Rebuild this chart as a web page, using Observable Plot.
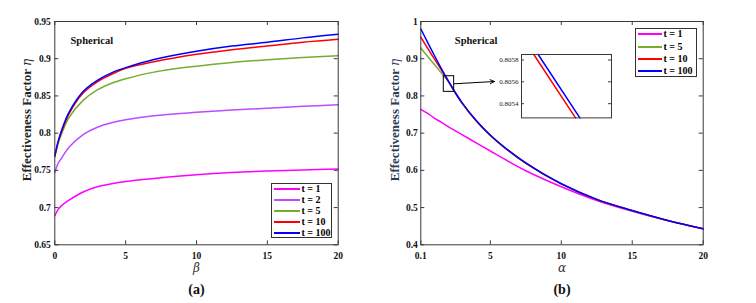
<!DOCTYPE html>
<html><head><meta charset="utf-8">
<script src="https://cdn.jsdelivr.net/npm/d3@7"></script>
<script src="https://cdn.jsdelivr.net/npm/@observablehq/plot@0.6"></script>
<style>
body{margin:0;background:#fff;}
#root{position:relative;width:756px;height:303px;overflow:hidden;font-family:"Liberation Serif","Times New Roman",serif;background:#fff;}
#root svg{position:absolute;top:0;}
.ylab{position:absolute;transform:translate(-50%,-50%) rotate(-90deg);white-space:nowrap;font-weight:bold;font-size:13px;}
.ylab i{font-weight:normal;font-family:"DejaVu Serif","Liberation Serif",serif;font-size:12px;}
.legend{position:absolute;border:1px solid #333;background:#fff;box-sizing:border-box;}
.legend .sw{position:absolute;height:0;}
.legend .lt{position:absolute;font-weight:bold;font-size:10px;line-height:10px;white-space:nowrap;transform:translateY(-50%);}
</style></head>
<body><div id="root"></div>
<script>
// ---------- Panel (a): eta vs beta ----------
const betaA = [0, 0.25, 0.5, 1, 2, 3, 4, 5, 7, 10, 12.5, 15, 17.5, 20];
const etaA_t1   = [0.689, 0.698, 0.703, 0.710, 0.721, 0.728, 0.732, 0.735, 0.739, 0.744, 0.747, 0.749, 0.7505, 0.752];
const etaA_t2   = [0.747, 0.760, 0.767, 0.781, 0.798, 0.808, 0.814, 0.818, 0.8235, 0.828, 0.831, 0.8335, 0.836, 0.838];
const etaA_t5   = [0.768, 0.787, 0.800, 0.821, 0.844, 0.858, 0.867, 0.873, 0.882, 0.890, 0.895, 0.8985, 0.9015, 0.904];
const etaA_t10  = [0.769, 0.789, 0.803, 0.826, 0.854, 0.869, 0.879, 0.887, 0.896, 0.906, 0.912, 0.917, 0.922, 0.926];
const etaA_t100 = [0.770, 0.790, 0.805, 0.828, 0.856, 0.871, 0.881, 0.888, 0.899, 0.910, 0.917, 0.922, 0.928, 0.933];
const seriesA = ["t = 1", "t = 2", "t = 5", "t = 10", "t = 100"];
const xTicksA = [0, 5, 10, 15, 20];
const yTicksA = [0.65, 0.7, 0.75, 0.8, 0.85, 0.9, 0.95];

// ---------- Panel (b): eta vs alpha ----------
const alphaB = [0.1, 0.5, 1, 1.5, 2, 2.5, 3, 4, 5, 6, 7.5, 10, 12.5, 15, 17.5, 20];
const etaB_t1   = [0.764, 0.755, 0.742, 0.730, 0.718, 0.707, 0.696, 0.674, 0.652, 0.630, 0.599, 0.556, 0.519, 0.490, 0.465, 0.443];
const etaB_t5   = [0.929, 0.910, 0.887, 0.864, 0.841, 0.810, 0.781, 0.733, 0.694, 0.661, 0.619, 0.5635, 0.5215, 0.4915, 0.465, 0.443];
const etaB_t10  = [0.958, 0.933, 0.903, 0.873, 0.842, 0.8105, 0.7815, 0.7335, 0.6942, 0.6615, 0.6195, 0.5638, 0.5218, 0.4918, 0.4652, 0.4428];
const etaB_t100 = [0.980, 0.950, 0.913, 0.877, 0.843, 0.811, 0.782, 0.734, 0.6945, 0.662, 0.620, 0.564, 0.522, 0.492, 0.4655, 0.443];
const seriesB = ["t = 1", "t = 5", "t = 10", "t = 100"];
const xTicksB = [0.1, 5, 10, 15, 20];
const yTicksB = [0.4, 0.5, 0.6, 0.7, 0.8, 0.9, 1];

// zoom window and inset (magnified) data
const zoomAlpha = [1.72, 2.45];
const zoomEta = [0.811, 0.853];
const arrowFrom = [2.45, 0.8326];
const arrowTo = [5.29, 0.8388];
const insetAlpha = [2.28, 2.34];
const insetEta = [0.80527, 0.80585];
const insetRedAlpha = [2.2882, 2.3160];
const insetBlueAlpha = [2.2911, 2.3189];
const insetLineEta = [0.80585, 0.80527];
const yTicksInset = [0.8054, 0.8056, 0.8058];

const colorOf = {"t = 1": "#ff00ff", "t = 2": "#b94dff", "t = 5": "#77ac30", "t = 10": "#ff0000", "t = 100": "#0000ff"};

const rowsA = [];
[etaA_t1, etaA_t2, etaA_t5, etaA_t10, etaA_t100].forEach((arr, k) =>
  arr.forEach((v, i) => rowsA.push({x: betaA[i], y: v, s: seriesA[k]})));
const rowsB = [];
[etaB_t1, etaB_t5, etaB_t10, etaB_t100].forEach((arr, k) =>
  arr.forEach((v, i) => rowsB.push({x: alphaB[i], y: v, s: seriesB[k]})));

const root = document.getElementById("root");
const AX = "#3a3a3a";
const fmt = d => String(d);

function panel({rows, series, xDomain, yDomain, xTicks, yTicks, mL, mR, xlab, tag, extra = [], yPad}) {
  const W = 378, H = 303, mT = 21, mB = 58.7;
  const FW = W - mL - mR, FH = H - mT - mB;
  return Plot.plot({
    width: W, height: H, marginLeft: mL, marginRight: mR, marginTop: mT, marginBottom: mB,
    style: {fontFamily: "Liberation Serif, Times New Roman, serif", fontSize: "9.5px", fontWeight: "bold", background: "transparent", color: "#111", overflow: "visible"},
    x: {domain: xDomain, label: null},
    y: {domain: yDomain, label: null},
    color: {domain: series, range: series.map(s => colorOf[s])},
    marks: [
      Plot.line(rows, {x: "x", y: "y", z: "s", stroke: "s", curve: "catmull-rom", strokeWidth: 1.5}),
      ...extra,
      Plot.tickX(xTicks, {x: d => d, insetTop: FH - 4, stroke: AX}),
      Plot.tickX(xTicks, {x: d => d, insetBottom: FH - 4, stroke: AX}),
      Plot.tickY(yTicks, {y: d => d, insetRight: FW - 4, stroke: AX}),
      Plot.tickY(yTicks, {y: d => d, insetLeft: FW - 4, stroke: AX}),
      Plot.frame({stroke: AX, strokeWidth: 1}),
      Plot.axisX(xTicks, {tickSize: 0, tickPadding: 7, tickFormat: fmt, label: null}),
      Plot.axisY(yTicks, {tickSize: 0, tickPadding: yPad, tickFormat: fmt, label: null}),
      Plot.text([xlab], {frameAnchor: "bottom", lineAnchor: "middle", dy: 23.7, fontStyle: "italic", fontWeight: "normal", fontSize: 12, fontFamily: "DejaVu Serif, serif", fill: "#333"}),
      Plot.text([tag], {frameAnchor: "bottom", lineAnchor: "middle", dy: 44.7, fontSize: 14, fontWeight: "bold"}),
    ]
  });
}

const svgA = panel({
  rows: rowsA, series: seriesA, xDomain: [0, 20], yDomain: [0.65, 0.95],
  xTicks: xTicksA, yTicks: yTicksA, mL: 54.3, mR: 40.3, xlab: "β", tag: "(a)", yPad: 4,
  extra: [Plot.text(["Spherical"], {frameAnchor: "top-left", textAnchor: "start", lineAnchor: "middle", dx: 15.7, dy: 19, fontSize: 10.5, fontWeight: "bold"})]
});
svgA.style.left = "0px";
root.appendChild(svgA);

const svgB = panel({
  rows: rowsB, series: seriesB, xDomain: [0.1, 20], yDomain: [0.4, 1],
  xTicks: xTicksB, yTicks: yTicksB, mL: 42.3, mR: 53.3, xlab: "α", tag: "(b)", yPad: 3,
  extra: [
    Plot.text(["Spherical"], {frameAnchor: "top-left", textAnchor: "start", lineAnchor: "middle", dx: 34, dy: 19, fontSize: 10.5, fontWeight: "bold"}),
    Plot.rect([0], {x1: () => zoomAlpha[0], x2: () => zoomAlpha[1], y1: () => zoomEta[0], y2: () => zoomEta[1], fill: "none", stroke: "#000", strokeWidth: 1}),
    Plot.arrow([0], {x1: () => arrowFrom[0], y1: () => arrowFrom[1], x2: () => arrowTo[0], y2: () => arrowTo[1], stroke: "#000", strokeWidth: 1, headLength: 7, headAngle: 50})
  ]
});
svgB.style.left = "378px";
root.appendChild(svgB);

// inset
const iL = 32, iR = 4, iT = 3, iB = 3, iFW = 90, iFH = 63.4;
const insetRows = [
  ...insetRedAlpha.map((a, i) => ({x: a, y: insetLineEta[i], s: "t = 10"})),
  ...insetBlueAlpha.map((a, i) => ({x: a, y: insetLineEta[i], s: "t = 100"}))
];
const svgI = Plot.plot({
  width: iL + iFW + iR, height: iT + iFH + iB,
  marginLeft: iL, marginRight: iR, marginTop: iT, marginBottom: iB,
  style: {fontFamily: "Liberation Serif, Times New Roman, serif", fontSize: "7px", background: "transparent", color: "#223"},
  x: {domain: insetAlpha, label: null, axis: null},
  y: {domain: insetEta, label: null},
  color: {domain: ["t = 10", "t = 100"], range: [colorOf["t = 10"], colorOf["t = 100"]]},
  marks: [
    Plot.frame({fill: "#fff"}),
    Plot.line(insetRows, {x: "x", y: "y", z: "s", stroke: "s", strokeWidth: 1.5}),
    Plot.tickY(yTicksInset, {y: d => d, insetRight: iFW - 3, stroke: AX}),
    Plot.tickY(yTicksInset, {y: d => d, insetLeft: iFW - 3, stroke: AX}),
    Plot.frame({stroke: AX}),
    Plot.axisY(yTicksInset, {tickSize: 0, tickPadding: 3, tickFormat: d => d.toFixed(4), label: null})
  ]
});
svgI.style.left = (521 - iL) + "px";
svgI.style.top = (54.3 - iT) + "px";
root.appendChild(svgI);

// y labels
function ylab(x, color) {
  const d = document.createElement("div");
  d.className = "ylab";
  d.style.left = x + "px"; d.style.top = "120px"; d.style.color = color;
  d.innerHTML = 'Effectiveness Factor <i>η</i>';
  root.appendChild(d);
}
ylab(26.7, "#222");
ylab(394.5, "#2b3a55");

// legends
function legend(series, box, rowsY, lineX, textX) {
  const L = document.createElement("div");
  L.className = "legend";
  Object.assign(L.style, {left: box[0] + "px", top: box[1] + "px", width: box[2] + "px", height: box[3] + "px"});
  series.forEach((s, i) => {
    const y = rowsY[i] - box[1] - 1;
    const sw = document.createElement("div");
    sw.className = "sw";
    Object.assign(sw.style, {left: (lineX[0] - box[0] - 1) + "px", width: (lineX[1] - lineX[0]) + "px", top: (y - 1) + "px", borderTop: "2px solid " + colorOf[s]});
    const t = document.createElement("div");
    t.className = "lt";
    Object.assign(t.style, {left: (textX - box[0] - 1) + "px", top: y + "px"});
    t.textContent = s;
    L.appendChild(sw); L.appendChild(t);
  });
  root.appendChild(L);
}
legend(seriesA, [271, 183.3, 60.5, 55.2], [189.5, 200.5, 211.5, 222.5, 233.3], [273.5, 299.5], 301.5);
legend(seriesB, [635.3, 27.7, 61.4, 49.6], [34.3, 46.6, 58.9, 71.0], [638.3, 662], 663.5);
</script>
</body></html>
